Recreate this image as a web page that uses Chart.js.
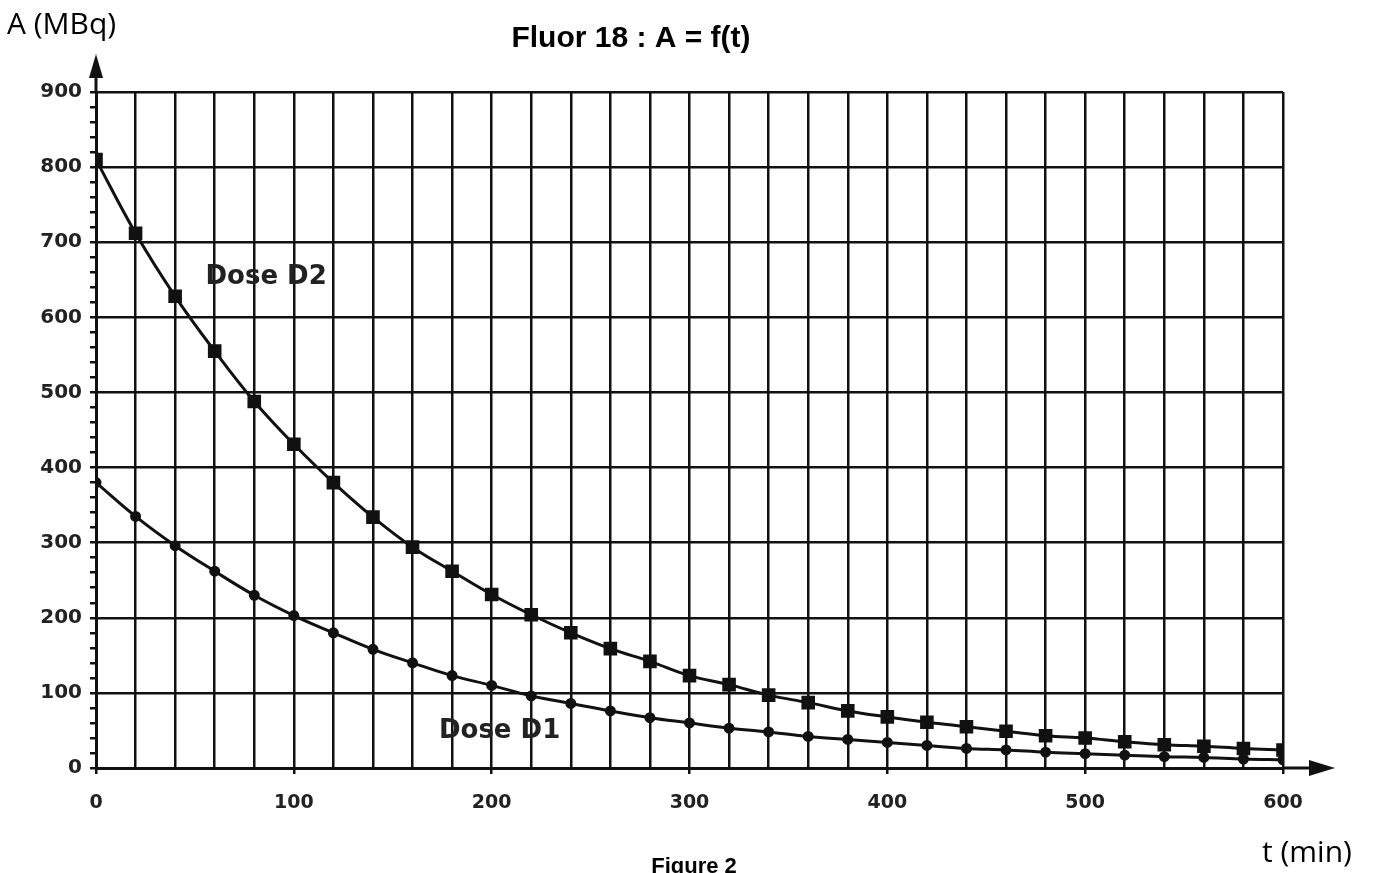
<!DOCTYPE html>
<html>
<head>
<meta charset="utf-8">
<title>Fluor 18 : A = f(t)</title>
<script src="https://cdn.jsdelivr.net/npm/chart.js@4/dist/chart.umd.min.js"></script>
<style>
    html, body { margin: 0; padding: 0; background: #fff; }
    #wrap { width: 1373px; height: 873px; position: relative; }
</style>
</head>
<body>
<div id="wrap"><canvas id="decayChart"></canvas></div>
<script>
// times in minutes, activity in MBq
const times = [0, 20, 40, 60, 80, 100, 120, 140, 160, 180, 200, 220, 240, 260, 280, 300,
    320, 340, 360, 380, 400, 420, 440, 460, 480, 500, 520, 540, 560, 580, 600];
const doseD2 = [810, 712, 628, 555, 488, 431, 380, 334, 294, 262, 231, 204, 180, 159, 142, 123,
    111, 97, 87, 76, 68, 61, 55, 49, 43, 40, 35, 31, 29, 26, 24];
const doseD1 = [380, 335, 296, 262, 230, 203, 180, 158, 140, 123, 110, 96, 86, 76, 67, 60,
    53, 48, 42, 38, 34, 30, 26, 24, 21, 19, 17, 15, 14, 12, 11];
const xLabels = [0, 100, 200, 300, 400, 500, 600];
const yLabels = [0, 100, 200, 300, 400, 500, 600, 700, 800, 900];

const ink = '#111';
const sans = '"Liberation Sans", Arial, sans-serif';
const wide = '"DejaVu Sans", Verdana, sans-serif';

// arrows, axis names and curve names drawn on top
const extrasPlugin = {
    id: 'extras',
    afterDraw(chart) {
        const c = chart.ctx;
        const x = chart.scales.x;
        const y = chart.scales.y;
        const x0 = x.getPixelForValue(0);
        const xEnd = x.getPixelForValue(600);
        const y0 = y.getPixelForValue(0);
        const yTop = y.getPixelForValue(900);
        c.save();
        c.strokeStyle = ink;
        c.fillStyle = ink;
        c.lineWidth = 3;
        // y arrow
        c.beginPath();
        c.moveTo(x0, yTop);
        c.lineTo(x0, yTop - 20);
        c.stroke();
        c.beginPath();
        c.moveTo(x0, yTop - 38);
        c.lineTo(x0 - 7, yTop - 14);
        c.lineTo(x0 + 7, yTop - 14);
        c.closePath();
        c.fill();
        // x arrow
        c.beginPath();
        c.moveTo(xEnd, y0);
        c.lineTo(xEnd + 30, y0);
        c.stroke();
        c.beginPath();
        c.moveTo(xEnd + 52, y0);
        c.lineTo(xEnd + 26, y0 - 8);
        c.lineTo(xEnd + 26, y0 + 8);
        c.closePath();
        c.fill();

        c.fillStyle = '#000';
        c.font = 'bold 30px ' + sans;
        c.textAlign = 'center';
        c.textBaseline = 'alphabetic';
        c.fillText('Fluor 18 : A = f(t)', 631, 47);
        c.font = 'bold 22px ' + sans;
        c.textBaseline = 'top';
        c.fillText('Figure 2', 694, 856);

        c.font = '30px "Open Sans", ' + sans;
        c.textAlign = 'left';
        c.textBaseline = 'alphabetic';
        c.fillText('A (MBq)', 7, 34);
        c.fillText('t (min)', 1262, 862);

        c.fillStyle = '#222';
        c.font = 'bold 26px ' + wide;
        c.textAlign = 'center';
        c.textBaseline = 'middle';
        c.fillText('Dose D2', x.getPixelForValue(86), y.getPixelForValue(653));
        c.fillText('Dose D1', x.getPixelForValue(204), y.getPixelForValue(49));
        c.restore();
    }
};

function initChart() {
    const ctx = document.getElementById('decayChart');
    new Chart(ctx, {
        type: 'line',
        data: {
            datasets: [{
                label: 'Dose D2',
                data: times.map((t, i) => ({ x: t, y: doseD2[i] })),
                borderColor: ink,
                backgroundColor: ink,
                borderWidth: 3,
                pointStyle: 'rect',
                pointRadius: 7.5,
                tension: 0.4,
                fill: false
            }, {
                label: 'Dose D1',
                data: times.map((t, i) => ({ x: t, y: doseD1[i] })),
                borderColor: ink,
                backgroundColor: ink,
                borderWidth: 3,
                pointStyle: 'circle',
                pointRadius: 4,
                tension: 0.4,
                fill: false
            }]
        },
        options: {
            responsive: true,
            maintainAspectRatio: false,
            animation: false,
            layout: { padding: { left: 0, right: 90, top: 92, bottom: 0 } },
            plugins: {
                legend: { display: false },
                tooltip: { enabled: false }
            },
            scales: {
                x: {
                    type: 'linear',
                    min: 0,
                    max: 600,
                    afterFit(scale) { scale.height = 105; },
                    afterBuildTicks(scale) {
                        scale.ticks = times.map(v => ({ value: v }));
                    },
                    grid: {
                        color: ink,
                        lineWidth: 2.5,
                        drawTicks: true,
                        tickLength: 6,
                        tickColor: ctx2 => xLabels.includes(ctx2.tick.value) ? ink : 'rgba(0,0,0,0)'
                    },
                    border: { color: ink, width: 3 },
                    ticks: {
                        autoSkip: false,
                        maxRotation: 0,
                        padding: 18,
                        color: '#222',
                        font: { family: wide, size: 19, weight: 'bold' },
                        callback: v => xLabels.includes(v) ? String(v) : ''
                    }
                },
                y: {
                    type: 'linear',
                    min: 0,
                    max: 900,
                    afterFit(scale) { scale.width = 96; },
                    afterBuildTicks(scale) {
                        const t = [];
                        for (let v = 0; v <= 900; v += 20) t.push({ value: v });
                        scale.ticks = t;
                    },
                    grid: {
                        color: ctx2 => yLabels.includes(ctx2.tick.value) ? ink : 'rgba(0,0,0,0)',
                        lineWidth: 2.5,
                        drawTicks: true,
                        tickLength: 6,
                        tickColor: ink
                    },
                    border: { color: ink, width: 3 },
                    ticks: {
                        autoSkip: false,
                        padding: 8,
                        color: '#222',
                        font: { family: wide, size: 20, weight: 'bold' },
                        callback: v => yLabels.includes(v) ? String(v) : ''
                    }
                }
            }
        },
        plugins: [extrasPlugin]
    });
}

window.addEventListener('DOMContentLoaded', initChart);
</script>
</body>
</html>
